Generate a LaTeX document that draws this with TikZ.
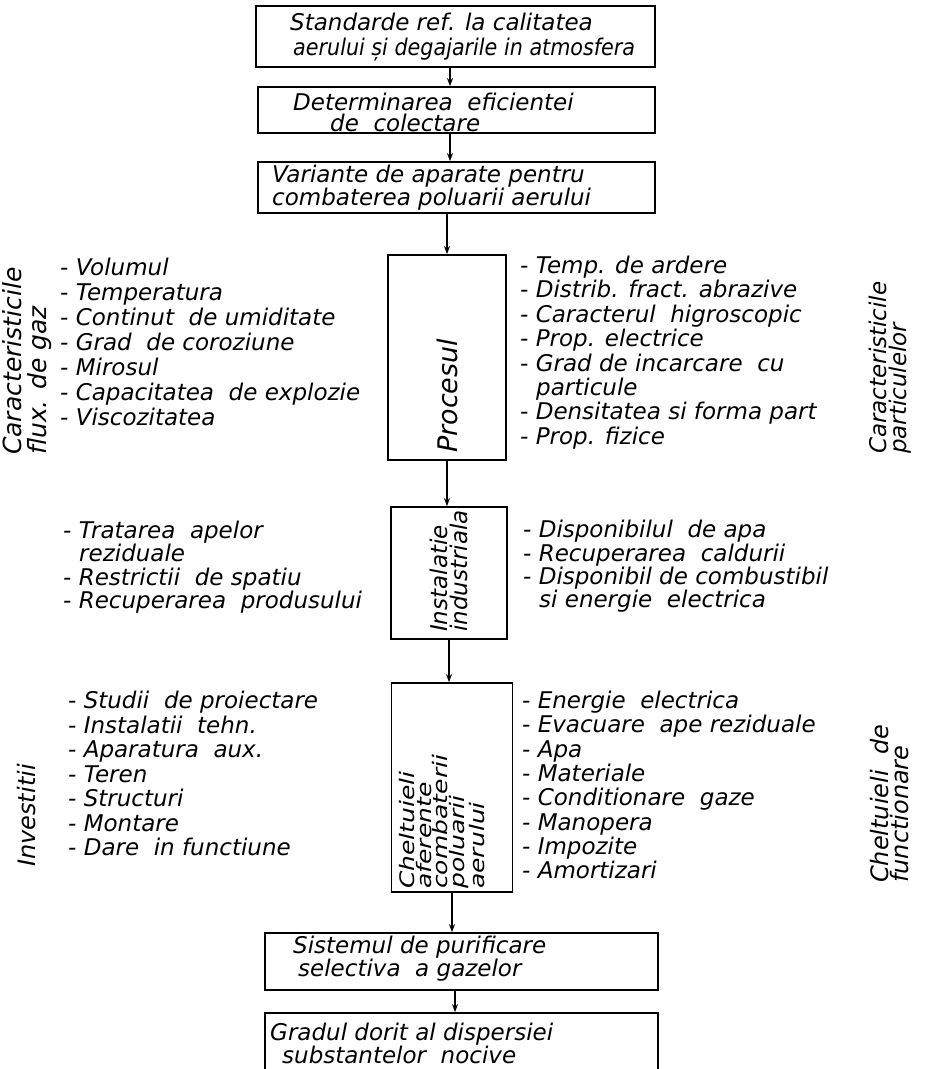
\documentclass[tikz,border=0pt]{standalone}
\usepackage{fontspec}
\setmainfont{DejaVu Sans}
\usetikzlibrary{arrows.meta}
\begin{document}
\begin{tikzpicture}[x=1pt,y=-1pt,
  box/.style={draw, line width=1.8pt, inner sep=0pt},
  txt/.style={anchor=west, align=left, inner sep=0pt, font=\itshape\fontsize{23}{25}\selectfont},
  vtxt/.style={rotate=90, anchor=west, align=left, inner sep=0pt},
  arr/.style={-{Stealth[length=8pt,width=6pt]}, line width=1.4pt}]
\useasboundingbox (0,0) rectangle (927,1069);

% main column boxes
\node[box, minimum width=399pt, minimum height=61pt] (b1) at (455.5,36.5) {};
\node[box, minimum width=397pt, minimum height=46pt] (b2) at (456.5,110) {};
\node[box, minimum width=397pt, minimum height=51pt] (b3) at (456.5,187.5) {};
\node[box, minimum width=118pt, minimum height=205pt] (proc) at (447,357.5) {};
\node[box, minimum width=116pt, minimum height=132pt] (inst) at (449,573) {};
\node[box, minimum width=121pt, minimum height=209pt] (chel) at (452,787.5) {};
\node[box, minimum width=393pt, minimum height=57pt] (sist) at (461.5,961.5) {};
\node[box, minimum width=393pt, minimum height=64pt] (grad) at (461.5,1045) {};

% box texts
\node[txt] (t1) at (290,37.5) {Standarde ref. la calitatea\\\hspace*{3pt}\scalebox{0.9}[1]{aerului și degajarile in atmosfera}};
\node[txt, font=\itshape\fontsize{23}{21}\selectfont] (t2) at (293,112.5) {Determinarea\ \ eficientei\\\hspace*{37pt}de\ \ colectare};
\node[txt, font=\itshape\fontsize{23}{21}\selectfont] (t3) at (272,187.5) {Variante de aparate pentru\\combaterea poluarii aerului};
\node[txt, font=\itshape\fontsize{23}{22}\selectfont] (t4) at (293,959) {Sistemul de purificare\\\hspace*{5pt}selectiva\ \ a gazelor};
\node[txt, font=\itshape\fontsize{23}{23}\selectfont] (t5) at (270,1043.5) {Gradul dorit al dispersiei\\\hspace*{12pt}substantelor\ \ nocive};

% texts inside vertical boxes
\node[vtxt, font=\itshape\fontsize{27}{27}\selectfont] (tproc) at (447,453) {Procesul};
\node[vtxt, font=\itshape\fontsize{23}{20}\selectfont] (tinst) at (449,632) {Instalatie\\industriala};
\node[vtxt, xscale=1.25, font=\itshape\fontsize{20}{14.5}\selectfont] (tchel) at (442,889) {Cheltuieli\\aferente\\combaterii\\poluarii\\aerului};

% side lists
\node[txt] (gas) at (60,342) {- Volumul\\- Temperatura\\- Continut\ \ de umiditate\\- Grad\ \ de coroziune\\- Mirosul\\- Capacitatea\ \ de explozie\\- Viscozitatea};
\node[txt, font=\itshape\fontsize{23}{24.4}\selectfont] (part) at (520,352.5) {- Temp. de ardere\\- Distrib. fract. abrazive\\- Caracterul\ \ higroscopic\\- Prop. electrice\\- Grad de incarcare\ \ cu\\\hspace*{16pt}particule\\- Densitatea si forma part\\- Prop. fizice};
\node[txt, font=\itshape\fontsize{23}{23.3}\selectfont] (instl) at (63,567) {- Tratarea\ \ apelor\\\hspace*{16pt}reziduale\\- Restrictii\ \ de spatiu\\- Recuperarea\ \ produsului};
\node[txt, font=\itshape\fontsize{23}{21}\selectfont] (instr) at (523,566.5) {- Disponibilul\ \ de apa\\- Recuperarea\ \ caldurii\\- Disponibil de combustibil\\\hspace*{16pt}si energie\ \ electrica};
\node[txt, font=\itshape\fontsize{23}{24.5}\selectfont] (inv) at (68,773.5) {- Studii\ \ de proiectare\\- Instalatii\ \ tehn.\\- Aparatura\ \ aux.\\- Teren\\- Structuri\\- Montare\\- Dare\ \ in functiune};
\node[txt, font=\itshape\fontsize{23}{24.3}\selectfont] (cost) at (522,785) {- Energie\ \ electrica\\- Evacuare\ \ ape reziduale\\- Apa\\- Materiale\\- Conditionare\ \ gaze\\- Manopera\\- Impozite\\- Amortizari};

% rotated side labels
\node[vtxt, font=\itshape\fontsize{25}{25}\selectfont] (lgas) at (27,455) {Caracteristicile\\flux. de gaz};
\node[vtxt, font=\itshape\fontsize{23}{20}\selectfont] (lpart) at (890,454) {Caracteristicile\\particulelor};
\node[vtxt, font=\itshape\fontsize{24}{24}\selectfont] (linv) at (27,867) {Investitii};
\node[vtxt, font=\itshape\fontsize{24}{20}\selectfont] (lcost) at (890,883) {Cheltuieli\ \ de\\functionare};

% connectors
\draw[arr] ([xshift=-5.5pt]b1.south) -- ([xshift=-6.5pt]b2.north);
\draw[arr] ([xshift=-6.5pt]b2.south) -- ([xshift=-6.5pt]b3.north);
\draw[arr] (b3.south -| proc.north) -- (proc.north);
\draw[arr] (proc.south) -- (proc.south |- inst.north);
\draw[arr] (inst.south) -- (inst.south |- chel.north);
\draw[arr] (chel.south) -- (chel.south |- sist.north);
\draw[arr] ([xshift=-6.5pt]sist.south) -- ([xshift=-6.5pt]grad.north);
\end{tikzpicture}
\end{document}
